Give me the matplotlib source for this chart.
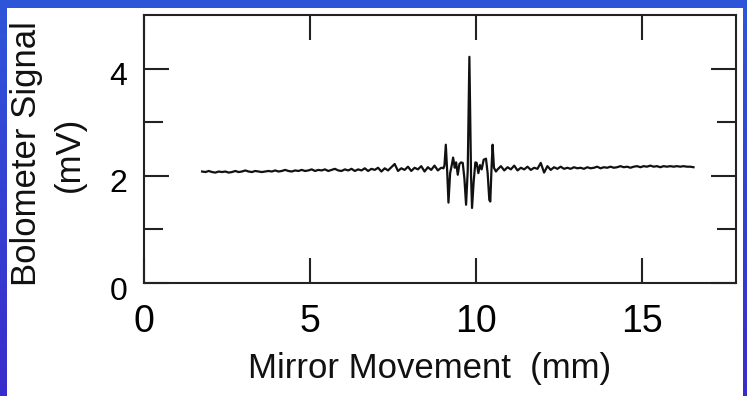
import numpy as np
import matplotlib
matplotlib.use("Agg")
import matplotlib.pyplot as plt
from matplotlib.colors import LinearSegmentedColormap
from matplotlib.patches import Rectangle
from matplotlib.transforms import ScaledTranslation

plt.rcParams['font.family'] = ['Liberation Sans', 'DejaVu Sans']

# ---- data ----
left_mm = [1.75, 1.85, 1.95, 2.05, 2.15, 2.25, 2.35, 2.45, 2.55, 2.65, 2.75, 2.85,
           2.95, 3.05, 3.15, 3.25, 3.35, 3.45, 3.55, 3.65, 3.75, 3.85, 3.95, 4.05,
           4.15, 4.25, 4.35, 4.45, 4.55, 4.65, 4.75, 4.85, 4.95, 5.05, 5.15, 5.25,
           5.35, 5.45, 5.55, 5.65, 5.75, 5.85, 5.95, 6.05, 6.15, 6.25, 6.35, 6.45,
           6.55, 6.65, 6.75, 6.85, 6.95, 7.05, 7.15, 7.25, 7.35, 7.45, 7.55, 7.65,
           7.75, 7.85, 7.95, 8.05, 8.15, 8.25, 8.35, 8.45, 8.55, 8.65, 8.75, 8.85,
           8.95, 9.02]
left_mv = [2.08, 2.07, 2.09, 2.07, 2.06, 2.08, 2.07, 2.08, 2.06, 2.07, 2.09, 2.07,
           2.08, 2.10, 2.08, 2.07, 2.09, 2.08, 2.07, 2.08, 2.09, 2.08, 2.10, 2.08,
           2.09, 2.11, 2.09, 2.08, 2.10, 2.09, 2.11, 2.09, 2.10, 2.12, 2.09, 2.11,
           2.10, 2.12, 2.09, 2.11, 2.13, 2.10, 2.09, 2.12, 2.10, 2.13, 2.09, 2.12,
           2.10, 2.14, 2.09, 2.13, 2.11, 2.15, 2.08, 2.14, 2.10, 2.16, 2.22, 2.09,
           2.14, 2.11, 2.17, 2.09, 2.15, 2.12, 2.18, 2.08, 2.16, 2.11, 2.19, 2.10,
           2.15, 2.14]

center_mm = [9.05, 9.09, 9.13, 9.17, 9.22, 9.27, 9.31, 9.36, 9.40, 9.45, 9.50, 9.55,
             9.60, 9.65, 9.70, 9.75, 9.78, 9.80, 9.82, 9.85, 9.88, 9.93, 9.98, 10.02,
             10.07, 10.12, 10.17, 10.23, 10.30, 10.35, 10.40, 10.43, 10.47, 10.50,
             10.54, 10.60]
center_mv = [2.20, 2.58, 2.10, 1.50, 2.05, 2.20, 2.34, 2.15, 2.25, 2.02, 2.22, 2.25,
             2.24, 1.95, 1.46, 2.10, 3.40, 4.22, 3.30, 2.00, 1.40, 1.90, 2.25, 2.24,
             2.05, 2.20, 2.12, 2.30, 2.32, 2.05, 1.55, 1.52, 2.20, 2.58, 2.15, 2.08]

right_mm = [10.65, 10.75, 10.85, 10.95, 11.05, 11.15, 11.25, 11.35, 11.45, 11.55,
            11.65, 11.75, 11.85, 11.95, 12.05, 12.15, 12.25, 12.35, 12.45, 12.55,
            12.65, 12.75, 12.85, 12.95, 13.05, 13.15, 13.25, 13.35, 13.45, 13.55,
            13.65, 13.75, 13.85, 13.95, 14.05, 14.15, 14.25, 14.35, 14.45, 14.55,
            14.65, 14.75, 14.85, 14.95, 15.05, 15.15, 15.25, 15.35, 15.45, 15.55,
            15.65, 15.75, 15.85, 15.95, 16.05, 16.15, 16.25, 16.35, 16.45, 16.55]
right_mv = [2.12, 2.18, 2.10, 2.16, 2.12, 2.19, 2.10, 2.15, 2.12, 2.17,
            2.11, 2.15, 2.13, 2.24, 2.06, 2.18, 2.11, 2.16, 2.13, 2.17,
            2.13, 2.15, 2.13, 2.16, 2.14, 2.15, 2.13, 2.16, 2.14, 2.15,
            2.17, 2.14, 2.16, 2.15, 2.17, 2.15, 2.16, 2.18, 2.16, 2.17,
            2.15, 2.17, 2.18, 2.16, 2.18, 2.17, 2.19, 2.17, 2.18, 2.16,
            2.18, 2.17, 2.18, 2.17, 2.18, 2.17, 2.18, 2.17, 2.17, 2.16]

x_ticks = [0, 5, 10, 15]
x_tick_labels = ["0", "5", "10", "15"]
y_ticks = [0, 2, 4]
y_tick_labels = ["0", "2", "4"]
y_minor_ticks = [1, 3]
x_label = "Mirror Movement  (mm)"
y_label = "Bolometer Signal\n(mV)"

W, H = 747, 396
fig = plt.figure(figsize=(W / 100, H / 100), dpi=100)

# background: blue gradient slide with white panel
bg = fig.add_axes([0, 0, 1, 1], zorder=-10)
bg.set_xlim(0, 1)
bg.set_ylim(0, 1)
bg.axis('off')
grad = np.linspace(0, 1, 256).reshape(-1, 1)
cmap = LinearSegmentedColormap.from_list('slide', ['#2e56d8', '#3a2ccc'])
bg.imshow(grad, aspect='auto', cmap=cmap, extent=[0, 1, 0, 1], origin='upper')
bg.add_patch(Rectangle((7 / W, 0), (743 - 7) / W, (H - 8) / H,
                       facecolor='white', edgecolor='none'))

ax = fig.add_axes([144 / W, 113 / H, 592 / W, 268 / H])
ax.set_facecolor('white')
x = left_mm + center_mm + right_mm
y = left_mv + center_mv + right_mv
ax.plot(x, y, color='#111111', lw=1.6, solid_joinstyle='round')

ax.set_xlim(0, 17.83)
ax.set_ylim(0, 5.0)
ax.set_xticks(x_ticks)
ax.set_xticklabels(x_tick_labels)
ax.set_yticks(y_ticks)
ax.set_yticklabels(y_tick_labels)
ax.set_yticks(y_minor_ticks, minor=True)

ax.tick_params(which='both', direction='in', top=True, right=True,
               width=1.5, color='#222222')
ax.tick_params(which='major', length=18)
ax.tick_params(which='minor', length=13.5)
ax.tick_params(axis='x', labelsize=27, pad=15)
ax.tick_params(axis='y', labelsize=23, pad=12)
for s in ax.spines.values():
    s.set_linewidth(1.5)
    s.set_color('#222222')

shift = ScaledTranslation(0, -5 / 100, fig.dpi_scale_trans)
for lab in ax.get_yticklabels():
    lab.set_transform(lab.get_transform() + shift)

fig.text(48 / W, 1 - 154 / H, y_label, rotation=90, ha='center', va='center',
         fontsize=25, linespacing=1.4, multialignment='center', color='#111111')
fig.text(430 / W, 18 / H, x_label, ha='center', va='baseline',
         fontsize=25, color='#111111')

fig.savefig('out.png', dpi=100)
